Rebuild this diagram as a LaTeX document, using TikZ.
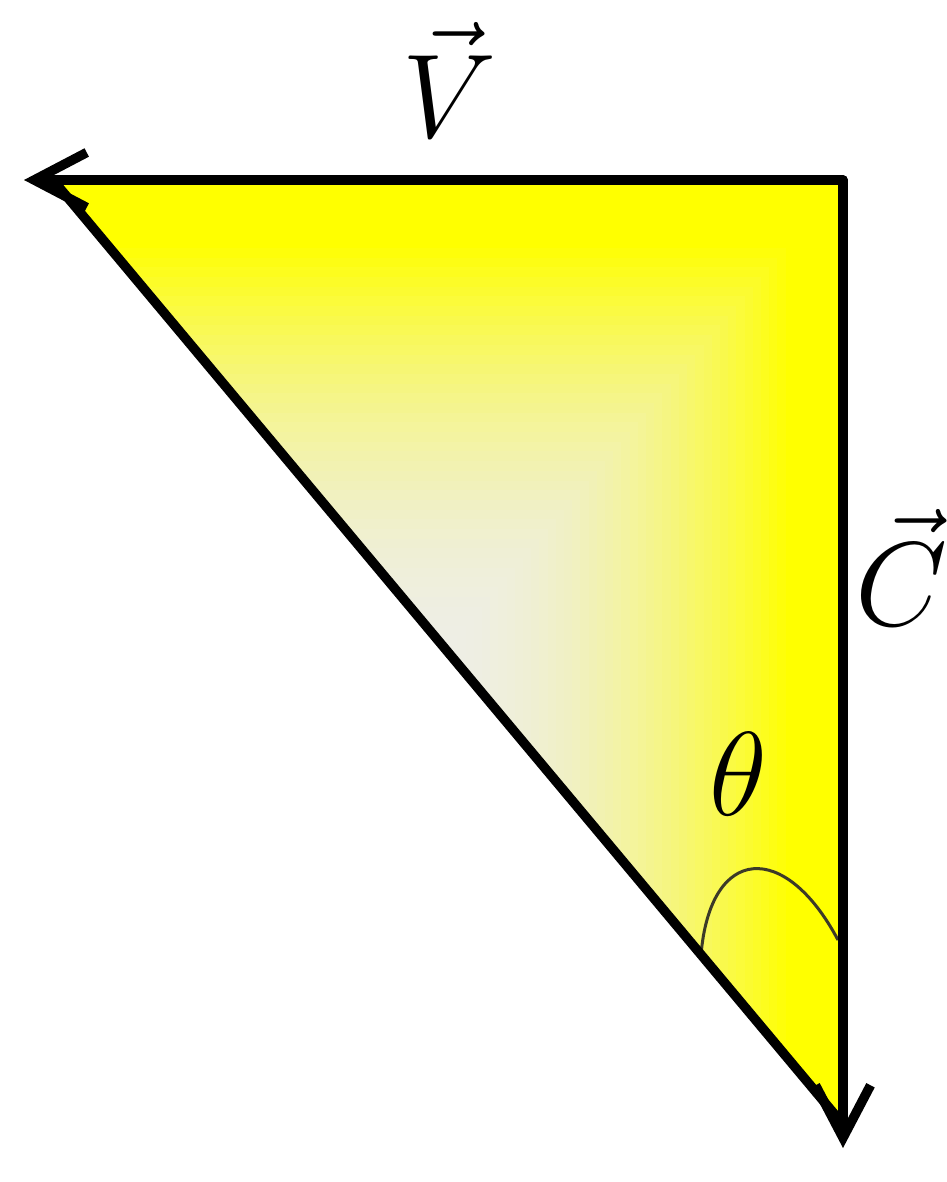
\documentclass[tikz,border=0pt]{standalone}
\usetikzlibrary{arrows.meta}
\begin{document}
\begin{tikzpicture}[x=0.02cm,y=-0.02cm,
  vec/.style={line width=0.19cm, line cap=round, line join=round,
    -{Straight Barb[length=1.05cm,width=1.1cm,line width=0.19cm]}},
  side/.style={line width=0.19cm, line cap=round},
  anglearc/.style={line width=0.06cm, draw={rgb,255:red,60;green,58;blue,40}},
  lbl/.style={inner sep=0pt, anchor=base, font=\Huge, scale=2.73}]
\useasboundingbox (0,0) rectangle (946,1182);
\definecolor{pale}{RGB}{238,238,230}
\definecolor{yel}{RGB}{255,255,0}
\coordinate (TR) at (843,180);
\coordinate (TL) at (24,180);
\coordinate (BT) at (843,1148);
\coordinate (H1) at (58,186);
\coordinate (H2) at (836,1116);
\coordinate (A1) at (701,955);
\coordinate (A2) at (838,940);
% fill: rectangular gradient, pale at lower left, yellow at top and right
\begin{scope}
  \clip (TL) -- (TR) -- (BT) -- (H2) -- (H1) -- cycle;
  \foreach \i in {0,...,60}{
    \pgfmathsetmacro{\t}{1-\i*0.01}
    \pgfmathsetmacro{\s}{max(0,min(1,(\t-0.5)/0.44))}
    \pgfmathsetmacro{\p}{100*\s*\s}
    \fill[yel!\p!pale] (22,1150) rectangle ({22+821*\t},{1150-970*\t});
  }
\end{scope}
% angle arc
\draw[anglearc] (A1) .. controls (710,845) and (785,840) .. (A2);
% sides
\draw[side] (H1) -- (H2);
\draw[vec] (TR) -- (TL);
\draw[vec] (TR) -- (BT);
% labels
\node[lbl] (v) at (450,138) {$\vec{V}$};
\node[lbl] (c) at (902,625) {$\vec{C}$};
\node[lbl] (t) at (738,815) {$\theta$};
\end{tikzpicture}
\end{document}
